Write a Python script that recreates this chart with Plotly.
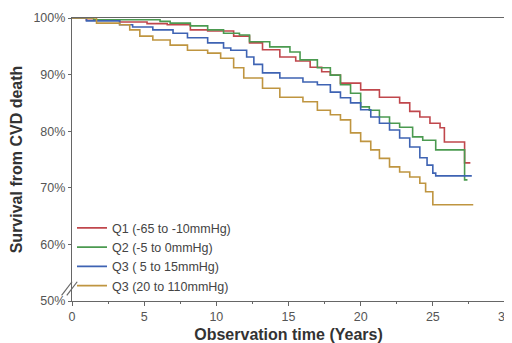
import plotly.graph_objects as go

# ---- data ----
names = ["Q1 (-65 to -10mmHg)", "Q2 (-5 to 0mmHg)", "Q3 ( 5 to 15mmHg)", "Q3 (20 to 110mmHg)"]
colors = ["#c0474c", "#4b9a50", "#3e63b3", "#bf9540"]

q1_t = [0, 1.0, 3.3, 5.2, 6.6, 8.2, 9.4, 11.2, 12.3, 13.2, 14.4, 15.5, 16.5, 17.3, 17.9, 18.6,
        20.0, 21.3, 22.7, 23.4, 24.1, 24.8, 25.5, 25.8, 27.2, 27.6]
q1_s = [100, 99.6, 99.3, 99.0, 98.8, 97.9, 97.7, 96.8, 95.6, 94.4, 93.1, 92.4, 91.3, 90.5, 89.9, 88.5,
        87.3, 86.0, 85.0, 83.5, 82.5, 81.4, 80.6, 78.1, 74.4, 74.4]

q2_t = [0, 1.5, 6.1, 6.8, 8.2, 9.4, 10.5, 11.6, 12.3, 13.7, 15.1, 15.8, 17.0, 17.9, 18.6, 19.3,
        20.0, 20.6, 21.3, 22.0, 22.7, 23.6, 24.3, 25.2, 27.2, 27.4]
q2_s = [100, 99.7, 99.4, 99.1, 98.6, 97.9, 97.3, 97.0, 95.8, 94.9, 94.0, 92.6, 91.2, 89.9, 88.2, 86.7,
        84.3, 83.7, 82.5, 81.4, 80.7, 79.0, 78.4, 76.7, 71.4, 71.4]

q3_t = [0, 1.0, 3.3, 4.2, 5.6, 7.0, 8.0, 9.4, 10.5, 11.0, 12.1, 12.6, 13.2, 14.4, 16.0, 17.0, 17.9,
        18.6, 19.3, 20.0, 20.7, 21.3, 22.0, 22.7, 23.4, 24.1, 24.6, 25.0, 25.2, 27.7]
q3_s = [100, 99.5, 98.8, 98.4, 97.9, 97.3, 96.5, 95.6, 94.7, 94.3, 93.1, 91.8, 90.3, 89.4, 88.7, 88.2, 86.9,
        85.9, 85.0, 83.8, 82.5, 81.4, 80.2, 78.8, 77.2, 75.3, 74.0, 72.6, 72.1, 72.1]

q4_t = [0, 1.7, 3.3, 4.0, 4.7, 5.6, 6.8, 8.0, 9.4, 10.3, 11.2, 11.9, 13.2, 14.4, 16.0, 17.0, 17.9,
        18.6, 19.3, 20.0, 20.7, 21.3, 22.0, 22.7, 23.4, 24.1, 24.5, 25.0, 27.8]
q4_s = [100, 99.1, 98.8, 97.9, 96.8, 96.1, 95.2, 94.3, 93.8, 92.9, 91.2, 89.4, 87.6, 86.0, 85.2, 83.7, 82.9,
        82.0, 79.7, 78.2, 76.7, 75.2, 73.7, 72.8, 71.9, 70.8, 69.3, 67.0, 67.0]

y_ticks = [50, 60, 70, 80, 90, 100]
y_tick_text = ["50%", "60%", "70%", "80%", "90%", "100%"]
x_ticks = [0, 5, 10, 15, 20, 25, 30]

series_t = [q1_t, q2_t, q3_t, q4_t]
series_s = [q1_s, q2_s, q3_s, q4_s]

fig = go.Figure()
for nm, col, t, s in zip(names, colors, series_t, series_s):
    fig.add_trace(go.Scatter(x=t, y=s, mode="lines", name=nm,
                             line=dict(color=col, width=1.6, shape="hv")))

axis_col = "#666666"
tick_font = dict(family="Liberation Sans, Arial, sans-serif", size=12.5, color="#555555")
title_font = dict(family="Liberation Sans, Arial, sans-serif", size=16, color="#333333")

# the page body has an 8px default margin, so the figure is 8px smaller than the window
fig.update_layout(
    width=504, height=335,
    margin=dict(l=64, r=7, t=10, b=42, autoexpand=False),
    paper_bgcolor="white", plot_bgcolor="white",
    showlegend=True,
    legend=dict(x=0.0, y=0.31, xanchor="left", yanchor="top",
                bgcolor="rgba(0,0,0,0)", font=dict(family="Liberation Sans, Arial, sans-serif",
                                                     size=12.5, color="#444444"),
                tracegroupgap=0, itemwidth=30),
    xaxis=dict(range=[0, 30], tickvals=x_ticks, showgrid=False, zeroline=False, automargin=False,
               showline=True, linecolor=axis_col, linewidth=1.2, mirror=True,
               ticks="outside", ticklen=4, tickcolor=axis_col, tickfont=tick_font,
               minor=dict(dtick=2.5, ticks="outside", ticklen=2, tickcolor=axis_col, showgrid=False),
               title=dict(text="<b>Observation time (Years)</b>", font=title_font, standoff=7)),
    yaxis=dict(range=[50, 100], tickvals=y_ticks, ticktext=y_tick_text, showgrid=False,
               zeroline=False, automargin=False, showline=True, linecolor=axis_col, linewidth=1.2,
               mirror=True, ticks="outside", ticklen=3, tickcolor=axis_col, tickfont=tick_font,
               title=dict(text="<b>Survival from CVD death</b>", font=title_font, standoff=6)),
)

# axis break marks "//" near the bottom of the y axis
for dx in (-0.012, 0.0):
    fig.add_shape(type="line", xref="paper", yref="y",
                  x0=-0.012 + dx, y0=51.0, x1=0.012 + dx, y1=53.4,
                  line=dict(color=axis_col, width=1.2))

fig.write_html("out.html")
